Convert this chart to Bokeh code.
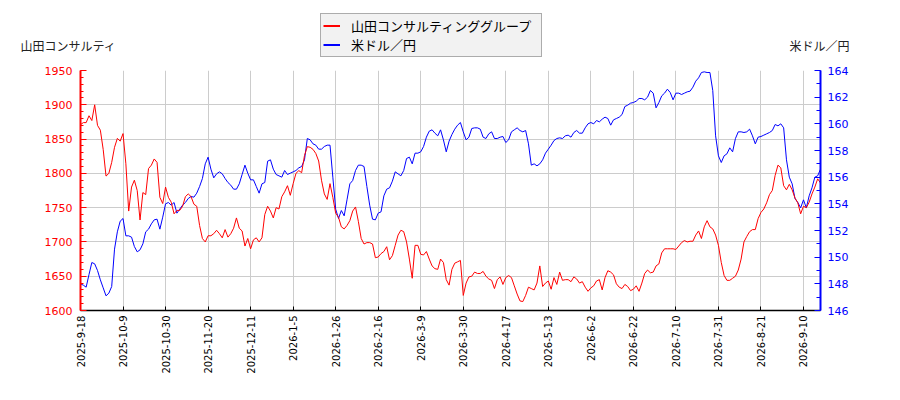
import math
from bokeh.plotting import figure
from bokeh.layouts import column
from bokeh.models import Range1d, LinearAxis, FixedTicker, Legend, LegendItem, Label
from bokeh.embed import file_html
from bokeh.resources import INLINE

# tick labels on the trading-day axis (one every 15 trading days)
tick_labels = ["2025-9-18", "2025-10-9", "2025-10-30", "2025-11-20", "2025-12-11",
               "2026-1-5", "2026-1-26", "2026-2-16", "2026-3-9", "2026-3-30",
               "2026-4-17", "2026-5-13", "2026-6-2", "2026-6-22", "2026-7-10",
               "2026-7-31", "2026-8-21", "2026-9-10"]

# 山田コンサルティンググループ share price (left axis)
stock = [
    1871, 1874, 1874, 1884, 1877, 1900, 1870, 1863, 1835, 1796,
    1800, 1816, 1838, 1851, 1847, 1858, 1814, 1745, 1780, 1790,
    1775, 1732, 1772, 1769, 1807, 1812, 1821, 1816, 1765, 1756,
    1780, 1765, 1758, 1741, 1746, 1746, 1752, 1766, 1770, 1766,
    1755, 1752, 1724, 1705,
    1700, 1709, 1709, 1712, 1717, 1712, 1706, 1718, 1707, 1712,
    1720, 1735, 1720, 1716, 1694, 1705, 1690, 1703, 1706, 1700,
    1706, 1740, 1752, 1745, 1735, 1750, 1748, 1766, 1773, 1782,
    1768, 1785, 1800, 1804, 1801, 1826, 1839, 1838, 1835, 1829,
    1818, 1790, 1770,
    1762, 1785, 1765, 1742, 1736, 1722, 1719, 1724, 1731, 1745,
    1751, 1730, 1705, 1697, 1699, 1699, 1697, 1677, 1678, 1683,
    1686, 1693, 1674, 1680, 1695, 1710, 1717, 1715, 1700, 1675,
    1647, 1695, 1695, 1682, 1681, 1686, 1675, 1665, 1661, 1660,
    1675, 1670, 1645,
    1637, 1660, 1669, 1671, 1673, 1622, 1640, 1649, 1650, 1656,
    1654, 1654, 1657, 1650, 1646, 1644, 1632, 1645, 1649, 1638,
    1648, 1651, 1648, 1636, 1624, 1614, 1613, 1622, 1634, 1632,
    1630, 1640, 1665, 1635, 1640, 1643, 1631, 1648, 1638, 1656,
    1644, 1645,
    1645, 1642, 1649, 1646, 1640, 1642, 1634, 1628, 1633, 1636,
    1643, 1645, 1630, 1648, 1658, 1656, 1652, 1639, 1634, 1632,
    1638, 1635, 1629, 1631, 1636, 1628, 1640, 1654, 1659, 1655,
    1656, 1665, 1668, 1684, 1690, 1690, 1690, 1690, 1689, 1694,
    1699, 1702, 1700, 1701,
    1701, 1710, 1716, 1705, 1722, 1731, 1722, 1719, 1710, 1695,
    1670, 1651, 1644, 1644, 1647, 1650, 1659, 1675, 1700, 1708,
    1715, 1718, 1718, 1734, 1743, 1748, 1757, 1769, 1775, 1797,
    1812, 1808, 1782, 1776, 1784, 1776, 1764, 1757, 1741, 1752,
    1750, 1758, 1770, 1780, 1792, 1786,
]

# 米ドル／円 (right axis)
usdjpy = [
    148.0, 147.9, 147.75, 148.7, 149.6, 149.5, 149.0, 148.3, 147.7, 147.1,
    147.3, 147.8, 150.6, 151.9, 152.7, 152.9, 151.6, 151.6, 151.5, 150.8,
    150.4, 150.55, 151.0, 151.9, 152.1, 152.5, 152.8, 152.85, 152.1, 153.0,
    154.0, 154.1, 153.9, 154.1, 153.3, 153.6, 153.9, 154.1, 154.4, 154.55,
    154.5, 154.8, 155.3, 155.9,
    157.0, 157.5, 156.6, 155.95, 156.25, 156.4, 156.25, 155.9, 155.6, 155.4,
    155.1, 155.1, 155.5, 156.2, 156.9, 156.3, 155.8, 155.8, 155.3, 154.8,
    155.5, 155.6, 157.2, 157.3, 156.6, 156.2, 156.1, 156.0, 156.5, 156.2,
    156.3, 156.4, 156.5, 156.7, 156.8, 157.3, 158.9, 158.8, 158.5, 158.4,
    158.1, 158.1, 158.3,
    158.4, 158.4, 156.0, 153.6, 152.9, 153.5, 153.1, 154.3, 155.5, 155.75,
    156.5, 156.9, 156.9, 156.8, 155.3, 153.9, 152.85, 152.8, 153.3, 153.4,
    154.6, 155.1, 155.2, 155.7, 156.4, 156.25, 156.1, 156.5, 157.4, 157.5,
    157.0, 157.8, 157.8, 157.9, 158.3, 159.0, 159.45, 159.55, 159.3, 159.1,
    159.55, 158.8, 157.9,
    158.7, 159.2, 159.6, 159.9, 160.1, 159.4, 158.8, 159.0, 159.65, 159.7,
    159.7, 159.6, 159.0, 158.9, 159.25, 159.4, 158.9, 158.9, 159.0, 159.05,
    158.6, 158.8, 159.4, 159.55, 159.7, 159.5, 159.4, 159.5, 158.5, 156.9,
    157.0, 156.85, 157.0, 157.3, 157.8, 158.1, 158.4, 158.75, 158.9, 158.95,
    158.9, 159.1,
    159.15, 159.0, 159.35, 159.5, 159.3, 159.3, 159.7, 160.0, 160.1, 160.0,
    160.25, 160.15, 160.35, 160.5, 160.4, 159.9, 160.3, 160.4, 160.5, 160.7,
    161.3, 161.4, 161.55, 161.6, 161.7, 161.9, 161.9, 161.8, 162.0, 162.5,
    162.3, 161.2, 161.6, 162.1, 162.3, 162.6, 162.35, 161.8, 162.3, 162.3,
    162.2, 162.3, 162.4, 162.45,
    162.75, 163.2, 163.45, 163.85, 163.9, 163.85, 163.85, 162.5, 159.1, 157.6,
    157.1, 157.6, 157.75, 158.2, 157.9, 158.9, 159.4, 159.4, 159.35, 159.4,
    159.6, 159.1, 158.5, 159.0, 159.05, 159.15, 159.25, 159.35, 159.5, 159.95,
    159.85, 160.0, 159.7, 157.3, 156.0, 155.5, 154.4, 154.1, 153.7, 154.3,
    153.7, 154.6, 155.2, 156.0, 156.1, 156.6,
]

days = list(range(len(stock)))
tick_pos = list(range(0, 15 * len(tick_labels), 15))

font = "DejaVu Sans"
jp_font = "Noto Sans CJK JP"
nan = float("nan")

# --- header strip: legend and the two axis titles (pixel coordinates) ---
head = figure(width=892, height=62, output_backend="svg", toolbar_location=None,
              x_axis_type=None, y_axis_type=None,
              x_range=Range1d(0, 892), y_range=Range1d(62, 0),
              min_border=0, min_border_left=0, min_border_right=0,
              min_border_top=0, min_border_bottom=0)
head.frame_align = False
head.outline_line_color = None

# legend keys only (no visible data)
k_stock = head.line([nan], [nan], color="red", line_width=2)
k_usd = head.line([nan], [nan], color="blue", line_width=2)

legend = Legend(items=[LegendItem(label="山田コンサルティンググループ", renderers=[k_stock]),
                       LegendItem(label="米ドル／円", renderers=[k_usd])],
                location=(320, 5), orientation="vertical", margin=0,
                label_text_font=jp_font, label_text_font_size="13px", label_text_color="black",
                background_fill_color="#f2f2f2", background_fill_alpha=1,
                border_line_color="#666666", border_line_width=1,
                padding=2, spacing=0, glyph_width=17, glyph_height=15,
                label_height=15, label_width=188, label_standoff=11)
head.add_layout(legend, "center")

head.add_layout(Label(x=20, y=45, text="山田コンサルティ", text_font=jp_font,
                      text_font_size="12px", text_color="#222222",
                      text_align="left", text_baseline="middle"))
head.add_layout(Label(x=849, y=45, text="米ドル／円", text_font=jp_font,
                      text_font_size="12px", text_color="#222222",
                      text_align="right", text_baseline="middle"))

# --- main chart ---
p = figure(width=892, height=330, output_backend="svg", toolbar_location=None,
           x_range=Range1d(0, len(stock) - 1), y_range=Range1d(1600, 1950),
           min_border_left=80, min_border_right=72, min_border_top=8, min_border_bottom=82)
p.frame_align = False
p.extra_y_ranges = {"usd": Range1d(146, 164)}
p.outline_line_color = None

# grid
p.xgrid.ticker = FixedTicker(ticks=tick_pos)
p.ygrid.ticker = FixedTicker(ticks=list(range(1600, 1951, 50)))
p.grid.grid_line_color = "#cccccc"
p.grid.grid_line_width = 1

# bottom axis
xa = p.xaxis[0]
xa.ticker = FixedTicker(ticks=tick_pos)
xa.major_label_overrides = {t: lab for t, lab in zip(tick_pos, tick_labels)}
xa.major_label_orientation = math.pi / 2
xa.major_label_text_font = font
xa.major_label_text_font_size = "10px"
xa.major_label_text_color = "black"
xa.major_label_standoff = 5
xa.axis_line_color = "black"
xa.axis_line_width = 1.5
xa.major_tick_in = 4
xa.major_tick_out = 0
xa.major_tick_line_color = "black"
xa.minor_tick_line_color = None

# left axis (share price)
ya = p.yaxis[0]
ya.ticker = FixedTicker(ticks=list(range(1600, 1951, 50)), minor_ticks=list(range(1600, 1951, 10)))
ya.axis_line_color = "red"
ya.axis_line_width = 2
ya.major_tick_line_color = "red"
ya.minor_tick_line_color = "red"
ya.major_tick_in = 6
ya.major_tick_out = 0
ya.minor_tick_in = 3
ya.minor_tick_out = 0
ya.major_label_text_color = "red"
ya.major_label_text_font = font
ya.major_label_text_font_size = "11px"
ya.major_label_standoff = 8

# right axis (USD/JPY)
ra = LinearAxis(y_range_name="usd",
                ticker=FixedTicker(ticks=list(range(146, 165, 2)), minor_ticks=list(range(146, 165, 1))))
ra.axis_line_color = "blue"
ra.axis_line_width = 2
ra.major_tick_line_color = "blue"
ra.minor_tick_line_color = "blue"
ra.major_tick_in = 6
ra.major_tick_out = 0
ra.minor_tick_in = 4
ra.minor_tick_out = 0
ra.major_label_text_color = "blue"
ra.major_label_text_font = font
ra.major_label_text_font_size = "11px"
ra.major_label_standoff = 7
p.add_layout(ra, "right")

# series
p.line(days, usdjpy, color="blue", line_width=1, y_range_name="usd")
p.line(days, stock, color="red", line_width=1)

open("out.html", "w").write(file_html(column(head, p, spacing=0), INLINE))
